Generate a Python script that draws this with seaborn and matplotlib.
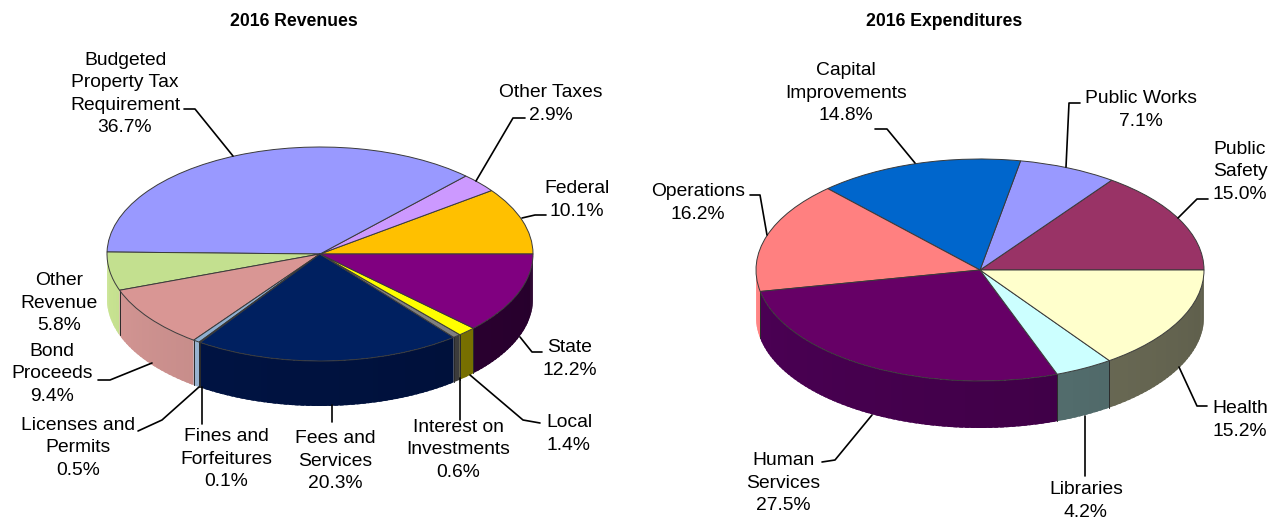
"""2016 revenue and expenditure budget pies, drawn with a fake 3D wall."""

import matplotlib.pyplot as plt
import numpy as np
import seaborn as sns
from matplotlib.colors import to_rgb

WIDTH, HEIGHT = 1279, 519

revenue_labels = ["Federal", "Other Taxes", "Budgeted\nProperty Tax\nRequirement", "Other\nRevenue",
                  "Bond\nProceeds", "Licenses and\nPermits", "Fines and\nForfeitures", "Fees and\nServices",
                  "Interest on\nInvestments", "Local", "State"]
revenue_values = [10.1, 2.9, 36.7, 5.8, 9.4, 0.5, 0.1, 20.3, 0.6, 1.4, 12.2]
revenue_colors = ["#FFC000", "#CC99FF", "#9999FF", "#C3E08F", "#D99694", "#8FAFD0", "#666699", "#002060",
                  "#808080", "#FFFF00", "#800080"]
revenue_walls = ["#8A6800", "#7A5A8A", "#5C5C99", "#B0C880", "#BC8583", "#8FA8C4", "#555566", "#00123F",
                 "#404040", "#807800", "#2D0033"]
revenue_text_xy = [(577, 200), (551, 104), (125, 94), (59, 303), (52, 374), (78, 448), (226, 459), (335, 461),
                   (458, 450), (569, 434), (570, 359)]

expense_labels = ["Public\nSafety", "Public Works", "Capital\nImprovements", "Operations", "Human\nServices",
                  "Libraries", "Health"]
expense_values = [15.0, 7.1, 14.8, 16.2, 27.5, 4.2, 15.2]
expense_colors = ["#993366", "#9999FF", "#0066CC", "#FF8080", "#660066", "#CCFFFF", "#FFFFCC"]
expense_walls = ["#5C1F3D", "#5C5C99", "#003D7A", "#E07070", "#42004A", "#557070", "#6E6E58"]
expense_text_xy = [(1240, 172), (1141, 110), (846, 93), (698, 203), (783, 483), (1086, 501), (1240, 420)]

leaders = [
    [(233, 156), (195, 109), (184, 109)],
    [(476, 181), (513, 118), (525, 118)],
    [(522, 218), (535, 215), (546, 215)],
    [(520, 337), (532, 352), (542, 352)],
    [(470, 375), (523, 420), (540, 423)],
    [(460, 378), (460, 420)],
    [(332, 405), (332, 422)],
    [(202, 387), (202, 424)],
    [(199, 387), (162, 420), (138, 431)],
    [(152, 363), (110, 380), (98, 380)],
    [(915, 163), (887, 129), (875, 129)],
    [(1066, 167), (1069, 103), (1080, 103)],
    [(1178, 218), (1197, 199), (1208, 199)],
    [(750, 195), (760, 195), (767, 235)],
    [(872, 415), (835, 460), (822, 462)],
    [(1085, 416), (1085, 476)],
    [(1179, 367), (1197, 406), (1207, 406)],
]

sns.set_theme(style="white")
plt.rcParams["font.family"] = ["Liberation Sans", "DejaVu Sans"]

fig = plt.figure(figsize=(WIDTH / 100, HEIGHT / 100), dpi=100)


def add_pie(values, colors, walls, cx, cy, rx, ry, depth):
    """Draw one flattened pie on its own axes, with the front wall below it."""
    ax = fig.add_axes([(cx - rx) / WIDTH, 1 - (cy + ry) / HEIGHT, 2 * rx / WIDTH, 2 * ry / HEIGHT])
    wedges, _ = ax.pie(values, colors=colors, startangle=0, counterclock=True, radius=1,
                       wedgeprops={"edgecolor": "#3A3A3A", "linewidth": 0.7, "clip_on": False, "zorder": 5})
    ax.set_aspect("auto")
    ax.set_xlim(-1, 1)
    ax.set_ylim(-1, 1)

    drop = depth / ry
    for wedge, wall in zip(wedges, walls):
        start = max(wedge.theta1, 180)
        end = min(wedge.theta2, 360)
        if end <= start:
            continue
        n_strips = max(int((end - start) / 1.5), 1)
        edges = np.linspace(start, end, n_strips + 1)
        base = np.array(to_rgb(wall))
        for t0, t1 in zip(edges[:-1], edges[1:]):
            shade = 1.15 - 0.3 * ((t0 + t1) / 2 - 180) / 180
            color = np.clip(base * shade, 0, 1)
            # strips overlap the next one so no white seam shows between them
            arc = np.radians(np.linspace(t0, min(t1 + 1, end), 4))
            xs = np.r_[np.cos(arc), np.cos(arc[::-1])]
            ys = np.r_[np.sin(arc), np.sin(arc[::-1]) - drop]
            ax.fill(xs, ys, color=color, linewidth=0, clip_on=False, zorder=1)
        for t_edge in (start, end):
            if 180 < t_edge < 360:
                t = np.radians(t_edge)
                ax.plot([np.cos(t)] * 2, [np.sin(t), np.sin(t) - drop], color="#2A2A2A", lw=0.6,
                        clip_on=False, zorder=2)
    return ax


add_pie(revenue_values, revenue_colors, revenue_walls, 320, 254, 213, 107, 45)
add_pie(expense_values, expense_colors, expense_walls, 980, 270, 224, 111, 47)

overlay = fig.add_axes([0, 0, 1, 1], facecolor="none")
overlay.set_xlim(0, WIDTH)
overlay.set_ylim(HEIGHT, 0)
overlay.axis("off")

for points in leaders:
    xs, ys = zip(*points)
    sns.lineplot(x=list(xs), y=list(ys), sort=False, estimator=None, color="black", linewidth=1.2, ax=overlay)

for labels, values, positions in ((revenue_labels, revenue_values, revenue_text_xy),
                                  (expense_labels, expense_values, expense_text_xy)):
    for label, value, (x, y) in zip(labels, values, positions):
        overlay.text(x, y, f"{label}\n{value:.1f}%", ha="center", va="center", fontsize=13.9,
                     color="black", linespacing=1.42)

overlay.text(294, 21, "2016 Revenues", ha="center", va="center", fontsize=12.7, fontweight="bold", color="black")
overlay.text(944, 21, "2016 Expenditures", ha="center", va="center", fontsize=12.7, fontweight="bold", color="black")

fig.savefig("out.png", dpi=100)
